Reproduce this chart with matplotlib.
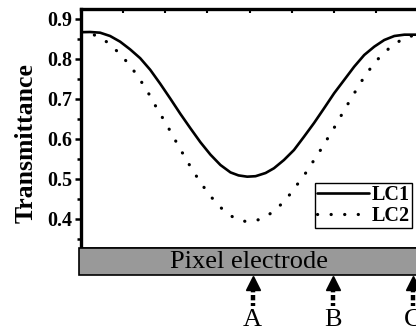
import matplotlib
matplotlib.use("Agg")
import matplotlib.pyplot as plt
import matplotlib.transforms as mtransforms
from matplotlib.patches import Rectangle
from matplotlib.ticker import MultipleLocator

plt.rcParams['font.family'] = ['Liberation Serif', 'DejaVu Serif']

# ---- data (position across the pixel, transmittance) ----
x_lc1 = [0, 9, 19, 29, 39, 49, 59, 69, 79, 89, 99, 109, 119, 129, 139, 149, 157, 165.7,
         174, 184, 192.3, 202.3, 212.3, 222.3, 232.3, 242.3, 252.3, 262.3, 272.3, 282.3,
         292.3, 302.3, 312.3, 322.3, 336]
t_lc1 = [0.867, 0.8675, 0.8658, 0.8575, 0.8433, 0.824, 0.802, 0.773, 0.738, 0.701, 0.663,
         0.627, 0.592, 0.561, 0.535, 0.5165, 0.509, 0.5058, 0.507, 0.515, 0.5268, 0.5475,
         0.5725, 0.6058, 0.640, 0.6768, 0.7143, 0.7475, 0.7808, 0.810, 0.8308, 0.8475,
         0.8575, 0.8608, 0.8608]

x_lc2 = [0, 13.3, 26.3, 39, 49.7, 58.7, 66.7, 74, 81.3, 88.7, 95.7, 103, 110.7, 118.7,
         127.7, 139, 152.3, 165, 179, 191.7, 204, 214, 223.3, 231.7, 239.7, 247.3,
         255, 262.3, 270, 277.7, 285.7, 295.7, 308, 321.7, 336]
t_lc2 = [0.866, 0.860, 0.842, 0.8125, 0.781, 0.749, 0.717, 0.684, 0.653, 0.621, 0.589,
         0.557, 0.524, 0.493, 0.461, 0.429, 0.403, 0.393, 0.399, 0.418, 0.4475, 0.481,
         0.5125, 0.545, 0.576, 0.6075, 0.639, 0.672, 0.704, 0.737, 0.7675, 0.799,
         0.829, 0.852, 0.862]

series_labels = ['LC1', 'LC2']
marker_labels = ['A', 'B', 'C']
marker_pos = [171, 251, 331]
y_ticks = [0.4, 0.5, 0.6, 0.7, 0.8, 0.9]
bar_label = 'Pixel electrode'

W, H = 416, 331
fig = plt.figure(figsize=(W / 100, H / 100), dpi=100)
ax = fig.add_axes([81 / W, 1 - 248 / H, 1.005 - 81 / W, (248 - 9) / H])

ax.plot(x_lc1, t_lc1, color='black', lw=1.9, label=series_labels[0],
        solid_capstyle='round', solid_joinstyle='round')
ax.plot(x_lc2, t_lc2, color='black', lw=2.3, linestyle=(0, (0.05, 4.2)),
        dash_capstyle='round', label=series_labels[1])

ax.set_xlim(0, 336)
ax.set_ylim(0.3275, 0.925)
ax.set_yticks(y_ticks)
ax.set_yticklabels([f'{v:.1f}' for v in y_ticks])
ax.yaxis.set_minor_locator(MultipleLocator(0.05))
ax.tick_params(axis='y', which='both', direction='out', width=1.8, left=True, right=False,
               labelsize=14.5, pad=2)
ax.tick_params(axis='y', which='major', length=4)
ax.tick_params(axis='y', which='minor', length=3)
for lab in ax.get_yticklabels():
    lab.set_fontweight('bold')

ax.xaxis.set_major_locator(MultipleLocator(42))
ax.tick_params(axis='x', which='both', direction='in', top=True, bottom=False,
               labelbottom=False, labeltop=False, length=3, width=1.5)

for s in ['left', 'top']:
    ax.spines[s].set_linewidth(2.4)
ax.spines['bottom'].set_linewidth(1.8)
ax.spines['right'].set_visible(False)

ax.set_ylabel('Transmittance', fontsize=18.5, fontweight='bold')
ax.yaxis.set_label_coords(-0.128, 0.439)

leg = ax.legend(loc='upper right', bbox_to_anchor=(412 / W, 1 - 183 / H),
                bbox_transform=fig.transFigure, frameon=True, fancybox=False,
                framealpha=1, edgecolor='black', borderpad=0.1, handlelength=2.55,
                handletextpad=0.15, labelspacing=0.05, borderaxespad=0,
                prop={'family': 'Liberation Serif', 'weight': 'bold', 'size': 14.5})
leg.get_frame().set_linewidth(1.0)

# gray pixel electrode bar
bar = Rectangle((79 / W, 1 - 275 / H), 1.0, (275 - 248) / H, transform=fig.transFigure,
                facecolor='#999999', edgecolor='black', lw=1.2, zorder=0)
fig.patches.append(bar)
fig.text((81 + 416) / 2 / W, 1 - 262 / H, bar_label, ha='center', va='center',
         fontsize=19)

# arrows and letters
blend = mtransforms.blended_transform_factory(ax.transData, fig.transFigure)
for xp, lab in zip(marker_pos, marker_labels):
    ax.plot([xp, xp], [1 - 287 / H, 1 - 306 / H], transform=blend, clip_on=False,
            color='black', lw=3.2, linestyle=(0, (1.2, 0.6)), solid_capstyle='butt')
    ax.plot([xp], [1 - 283 / H], transform=blend, clip_on=False, marker='^',
            markersize=10, color='black', linestyle='none')
    ax.text(xp, 1 - 320 / H, lab, transform=blend, ha='center', va='center',
            fontsize=19, clip_on=False)

fig.savefig('out.png', dpi=100)
